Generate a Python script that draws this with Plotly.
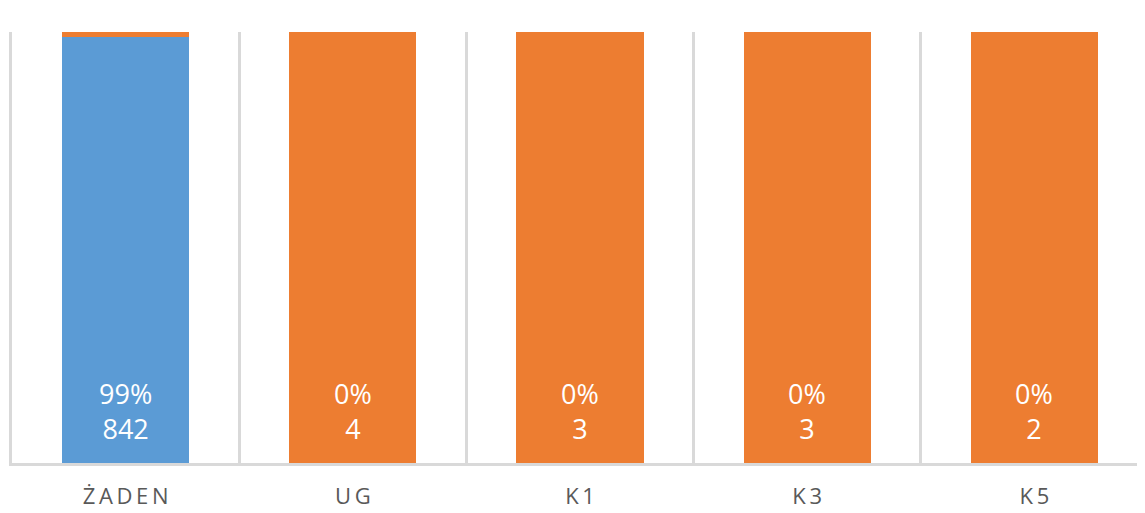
import plotly.graph_objects as go

# kategorie i liczebności
kategorie = ["Ż\u2009A\u2009D\u2009E\u2009N", "U\u2009G", "K\u20091", "K\u20093", "K\u20095"]
liczby = [842, 4, 3, 3, 2]
procenty_txt = ["99%", "0%", "0%", "0%", "0%"]
udzial_niebieski = [98.8, 0, 0, 0, 0]
udzial_pomaranczowy = [1.2, 100, 100, 100, 100]

fig = go.Figure()
fig.add_trace(go.Bar(x=kategorie, y=udzial_niebieski, name="A",
                     marker=dict(color="#5b9bd5", line=dict(width=0))))
fig.add_trace(go.Bar(x=kategorie, y=udzial_pomaranczowy, name="B",
                     marker=dict(color="#ed7d31", line=dict(width=0))))

# etykiety danych u podstawy słupków
for k, p, n in zip(kategorie, procenty_txt, liczby):
    fig.add_annotation(x=k, y=0, text=f"{p}<br>{n}", showarrow=False,
                       yanchor="bottom", yshift=14,
                       font=dict(color="white", size=27, family="Open Sans"))

fig.update_layout(
    barmode="stack", bargap=0.44, showlegend=False,
    width=1145, height=513,
    margin=dict(l=4, r=5, t=24, b=58),
    plot_bgcolor="white", paper_bgcolor="white",
)
fig.update_xaxes(tickson="boundaries", showgrid=True, gridcolor="#d9d9d9", gridwidth=3,
                 showline=True, linecolor="#d9d9d9", linewidth=3, ticks="",
                 ticklabelstandoff=12,
                 tickfont=dict(family="Open Sans", size=22, color="#595959"))
fig.update_yaxes(range=[0, 100], showgrid=False, showticklabels=False, zeroline=False,
                 showline=True, linecolor="#d9d9d9", linewidth=3)

fig.write_html("out.html")
